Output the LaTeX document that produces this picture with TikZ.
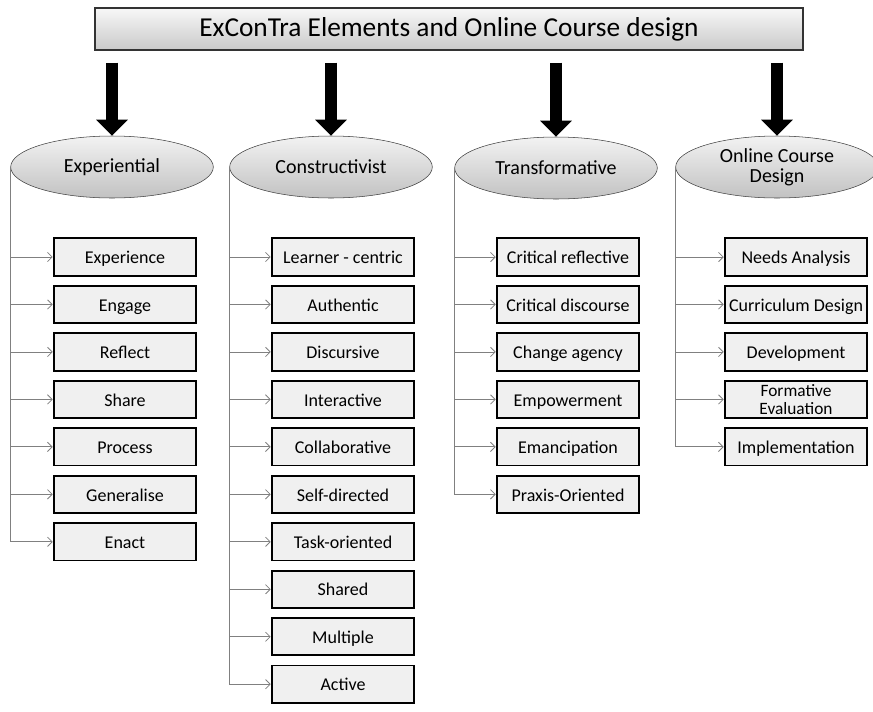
\documentclass[tikz,border=0pt]{standalone}
\usepackage{fontspec}
\setmainfont{Carlito}
\usetikzlibrary{shapes.geometric, arrows, arrows.meta, calc, positioning}

\begin{document}
\begin{tikzpicture}[x=0.75pt, y=-0.75pt, node distance=35.6pt]
\tikzstyle{header} = [rectangle, minimum width=531pt, minimum height=31.5pt, text centered, draw=gray!40!black, line width=1pt, top color=gray!6, bottom color=gray!42, font=\fontsize{20.5}{24}\selectfont]
\tikzstyle{group} = [ellipse, minimum width=152pt, minimum height=46.5pt, inner sep=0pt, align=center, draw=gray!50!black, top color=gray!10, bottom color=gray!48, font=\fontsize{15}{15}\selectfont]
\tikzstyle{item} = [rectangle, minimum width=107pt, minimum height=28pt, inner sep=1pt, align=center, text height=11pt, text depth=1pt, draw=black, line width=1.4pt, fill=gray!12, font=\fontsize{13.5}{12}\selectfont]
\tikzstyle{bigarrow} = [line width=9pt, -{Triangle[length=12pt, width=23pt]}, shorten <=9pt]
\tikzstyle{link} = [gray, line width=0.6pt, -{Straight Barb[length=3.5pt, width=7pt]}]

\useasboundingbox (0,0) rectangle (873,711);

% Title and groups
\node (title) [header] at (449,29) {ExConTra Elements and Online Course design};
\node (exp) [group] at (112,167) {Experiential};
\node (con) [group] at (331,167) {Constructivist};
\node (tra) [group] at (556,168) {Transformative};
\node (ocd) [group] at (777,167) {Online Course\\Design};

% Experiential items
\node (experience) [item] at (125,257) {Experience};
\node (engage) [item, below of=experience] {Engage};
\node (reflect) [item, below of=engage] {Reflect};
\node (share) [item, below of=reflect] {Share};
\node (process) [item, below of=share] {Process};
\node (generalise) [item, below of=process] {Generalise};
\node (enact) [item, below of=generalise] {Enact};

% Constructivist items
\node (learner) [item] at (343,257) {Learner - centric};
\node (authentic) [item, below of=learner] {Authentic};
\node (discursive) [item, below of=authentic] {Discursive};
\node (interactive) [item, below of=discursive] {Interactive};
\node (collab) [item, below of=interactive] {Collaborative};
\node (selfdir) [item, below of=collab] {Self-directed};
\node (task) [item, below of=selfdir] {Task-oriented};
\node (shared) [item, below of=task] {Shared};
\node (multiple) [item, below of=shared] {Multiple};
\node (active) [item, below of=multiple] {Active};

% Transformative items
\node (critref) [item] at (568,257) {Critical reflective};
\node (critdis) [item, below of=critref] {Critical discourse};
\node (change) [item, below of=critdis] {Change agency};
\node (empower) [item, below of=change] {Empowerment};
\node (emancip) [item, below of=empower] {Emancipation};
\node (praxis) [item, below of=emancip] {Praxis-Oriented};

% Online Course Design items
\node (needs) [item] at (796,257) {Needs Analysis};
\node (curric) [item, below of=needs] {Curriculum Design};
\node (develop) [item, below of=curric] {Development};
\node (formative) [item, below of=develop, text height=, text depth=, inner sep=0pt, font=\fontsize{13}{13}\selectfont] {Formative\\Evaluation};
\node (implement) [item, below of=formative] {Implementation};

% Block arrows
\draw [bigarrow] (title.south -| exp.north) -- (exp.north);
\draw [bigarrow] (title.south -| con.north) -- (con.north);
\draw [bigarrow] (title.south -| tra.north) -- (tra.north);
\draw [bigarrow] (title.south -| ocd.north) -- (ocd.north);

% Experiential links
\draw [link] (exp.west) |- (enact.west);
\draw [link] (exp.west |- experience.west) -- (experience.west);
\draw [link] (exp.west |- engage.west) -- (engage.west);
\draw [link] (exp.west |- reflect.west) -- (reflect.west);
\draw [link] (exp.west |- share.west) -- (share.west);
\draw [link] (exp.west |- process.west) -- (process.west);
\draw [link] (exp.west |- generalise.west) -- (generalise.west);

% Constructivist links
\draw [link] (con.west) |- (active.west);
\draw [link] (con.west |- learner.west) -- (learner.west);
\draw [link] (con.west |- authentic.west) -- (authentic.west);
\draw [link] (con.west |- discursive.west) -- (discursive.west);
\draw [link] (con.west |- interactive.west) -- (interactive.west);
\draw [link] (con.west |- collab.west) -- (collab.west);
\draw [link] (con.west |- selfdir.west) -- (selfdir.west);
\draw [link] (con.west |- task.west) -- (task.west);
\draw [link] (con.west |- shared.west) -- (shared.west);
\draw [link] (con.west |- multiple.west) -- (multiple.west);

% Transformative links
\draw [link] (tra.west) |- (praxis.west);
\draw [link] (tra.west |- critref.west) -- (critref.west);
\draw [link] (tra.west |- critdis.west) -- (critdis.west);
\draw [link] (tra.west |- change.west) -- (change.west);
\draw [link] (tra.west |- empower.west) -- (empower.west);
\draw [link] (tra.west |- emancip.west) -- (emancip.west);

% Online Course Design links
\draw [link] (ocd.west) |- (implement.west);
\draw [link] (ocd.west |- needs.west) -- (needs.west);
\draw [link] (ocd.west |- curric.west) -- (curric.west);
\draw [link] (ocd.west |- develop.west) -- (develop.west);
\draw [link] (ocd.west |- formative.west) -- (formative.west);

\end{tikzpicture}
\end{document}
